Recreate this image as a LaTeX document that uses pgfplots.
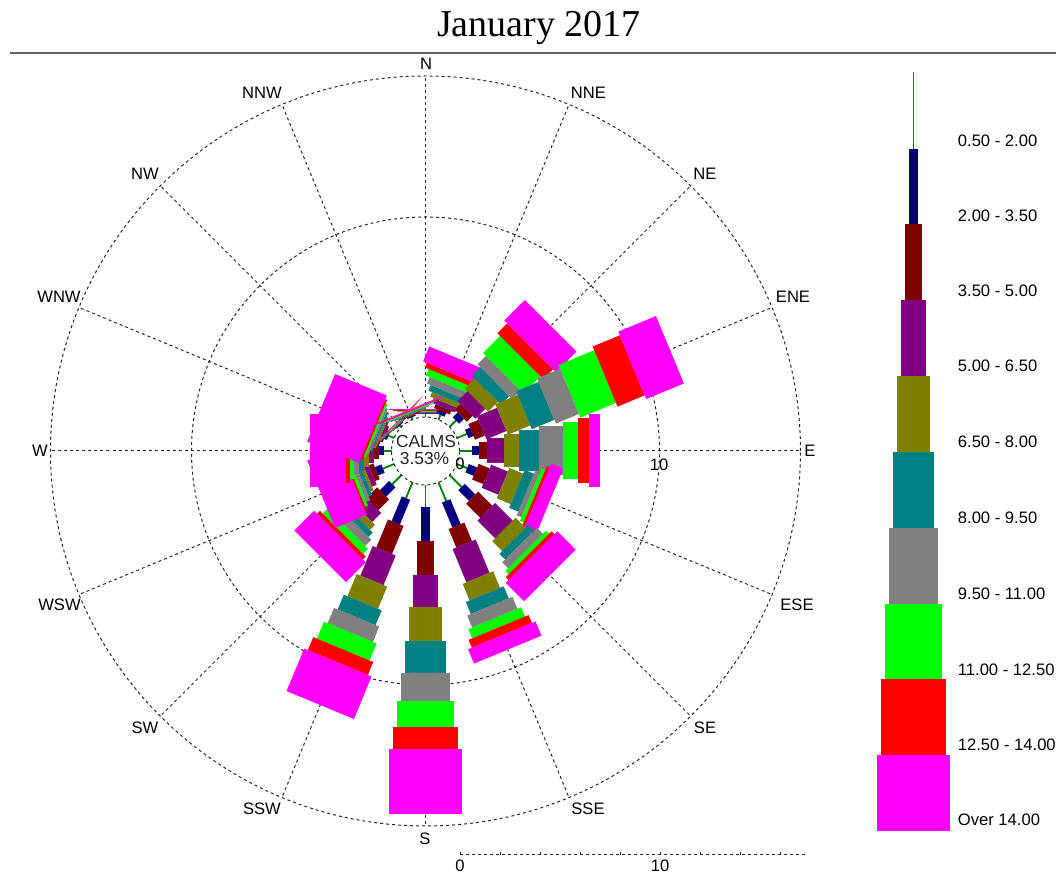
\documentclass[border=0pt]{standalone}
\usepackage{pgfplots}
\pgfplotsset{compat=1.18}
\usepackage{pgfplotstable}
\usepackage{fontspec}
\setmainfont{Liberation Sans}
\newfontfamily\titlefont{Liberation Serif}
\newcommand\lbl{\fontsize{8.3}{10}\selectfont}

\tikzset{gridln/.style={black!85, line width=0.5pt, dash pattern=on 1.5pt off 1.5pt}}

\pgfplotsset{
  windclass/.style={
    colormap={wrmap}{rgb255=(0,128,0) rgb255=(0,0,128) rgb255=(128,0,0) rgb255=(128,0,128)
      rgb255=(128,128,0) rgb255=(0,128,128) rgb255=(128,128,128) rgb255=(0,255,0)
      rgb255=(255,0,0) rgb255=(255,0,255)},
    colormap access=piecewise constant,
    point meta={\thisrow{cls}-0.5},
    point meta min=0, point meta max=10,
  },
}

% direction (deg), speed class, cumulative frequency (%) at start and end of segment
\pgfplotstableread{
dir cls lo hi
0 1 0.00 0.15
0 2 0.15 0.18
0 3 0.18 0.20
0 4 0.20 0.22
0 5 0.22 0.24
0 6 0.24 0.26
0 7 0.26 0.28
0 8 0.28 0.32
0 9 0.32 0.34
0 10 0.34 0.42
22.5 1 0.00 0.25
22.5 2 0.25 0.45
22.5 3 0.45 0.65
22.5 4 0.65 0.90
22.5 5 0.90 1.15
22.5 6 1.15 1.45
22.5 7 1.45 1.80
22.5 8 1.80 2.15
22.5 9 2.15 2.40
22.5 10 2.40 3.20
45 1 0.00 0.45
45 2 0.45 0.80
45 3 0.80 1.20
45 4 1.20 1.90
45 5 1.90 2.60
45 6 2.60 3.20
45 7 3.20 3.80
45 8 3.80 5.00
45 9 5.00 5.70
45 10 5.70 7.15
67.5 1 0.00 0.53
67.5 2 0.53 0.80
67.5 3 0.80 1.34
67.5 4 1.34 2.42
67.5 5 2.42 3.63
67.5 6 3.63 4.85
67.5 7 4.85 6.10
67.5 8 6.10 8.02
67.5 9 8.02 9.49
67.5 10 9.49 11.53
90 1 0.00 0.60
90 2 0.60 0.95
90 3 0.95 1.35
90 4 1.35 2.20
90 5 2.20 2.95
90 6 2.95 3.95
90 7 3.95 5.15
90 8 5.15 5.90
90 9 5.90 6.45
90 10 6.45 7.00
112.5 1 0.00 0.55
112.5 2 0.55 1.00
112.5 3 1.00 1.60
112.5 4 1.60 2.50
112.5 5 2.50 3.25
112.5 6 3.25 3.75
112.5 7 3.75 4.00
112.5 8 4.00 4.20
112.5 9 4.20 4.35
112.5 10 4.35 5.00
135 1 0.00 0.85
135 2 0.85 1.60
135 3 1.60 2.60
135 4 2.60 3.85
135 5 3.85 4.55
135 6 4.55 4.95
135 7 4.95 5.38
135 8 5.38 5.60
135 9 5.60 5.80
135 10 5.80 7.10
157.5 1 0.00 1.00
157.5 2 1.00 2.35
157.5 3 2.35 3.35
157.5 4 3.35 5.15
157.5 5 5.15 6.05
157.5 6 6.05 6.70
157.5 7 6.70 7.35
157.5 8 7.35 7.85
157.5 9 7.85 8.28
157.5 10 8.28 9.05
180 1 0.00 1.12
180 2 1.12 2.79
180 3 2.79 4.50
180 4 4.50 6.09
180 5 6.09 7.79
180 6 7.79 9.40
180 7 9.40 10.79
180 8 10.79 12.12
180 9 12.12 13.22
180 10 13.22 16.45
202.5 1 0.00 0.85
202.5 2 0.85 2.18
202.5 3 2.18 3.70
202.5 4 3.70 5.30
202.5 5 5.30 6.50
202.5 6 6.50 7.30
202.5 7 7.30 8.13
202.5 8 8.13 9.05
202.5 9 9.05 9.75
202.5 10 9.75 12.05
225 1 0.00 0.65
225 2 0.65 1.30
225 3 1.30 2.05
225 4 2.05 2.70
225 5 2.70 3.05
225 6 3.05 3.35
225 7 3.35 3.80
225 8 3.80 4.15
225 9 4.15 4.35
225 10 4.35 5.75
247.5 1 0.00 0.60
247.5 2 0.60 0.95
247.5 3 0.95 1.20
247.5 4 1.20 1.45
247.5 5 1.45 1.60
247.5 6 1.60 1.80
247.5 7 1.80 2.00
247.5 8 2.00 2.15
247.5 9 2.15 2.25
247.5 10 2.25 3.95
270 1 0.00 0.40
270 2 0.40 0.65
270 3 0.65 0.90
270 4 0.90 1.15
270 5 1.15 1.40
270 6 1.40 1.65
270 7 1.65 1.90
270 8 1.90 2.10
270 9 2.10 2.30
270 10 2.30 4.08
292.5 1 0.00 0.30
292.5 2 0.30 0.45
292.5 3 0.45 0.55
292.5 4 0.55 0.65
292.5 5 0.65 0.75
292.5 6 0.75 0.85
292.5 7 0.85 0.95
292.5 8 0.95 1.05
292.5 9 1.05 1.15
292.5 10 1.15 3.95
315 1 0.00 0.10
315 2 0.10 0.15
315 3 0.15 0.175
315 4 0.175 0.20
315 5 0.20 0.225
315 6 0.225 0.25
315 7 0.25 0.275
315 8 0.275 0.30
315 9 0.30 0.325
315 10 0.325 0.35
337.5 1 0.00 0.12
337.5 2 0.12 0.18
337.5 3 0.18 0.22
337.5 4 0.22 0.26
337.5 5 0.26 0.30
337.5 6 0.30 0.34
337.5 7 0.34 0.38
337.5 8 0.38 0.42
337.5 9 0.42 0.46
337.5 10 0.46 0.52
}\rosedata

% legend key: class, top and bottom of its block (axis units)
\pgfplotstableread{
cls ytop ybot
1 18.925 15.10
2 15.10 11.35
3 11.35 7.55
4 7.55 3.75
5 3.75 -0.05
6 -0.05 -3.85
7 -3.85 -7.65
8 -7.65 -11.40
9 -11.40 -15.20
10 -15.20 -19.00
}\legenddata

\begin{document}
\begin{tikzpicture}
\begin{axis}[
  at={(0pt,0pt)}, anchor=south west,
  x=10pt, y=10pt,
  xmin=-21.275, xmax=31.525, ymin=-21.1, ymax=22.55,
  enlargelimits=false, hide axis, clip=false,
]
% grid
\draw[gridln] (axis cs:0,0) circle[radius=187.5pt];
\draw[gridln] (axis cs:0,0) circle[radius=117pt];
\pgfplotsinvokeforeach{0,22.5,45,67.5,90,112.5,135,157.5,180,202.5,225,247.5,270,292.5,315,337.5}{
  \draw[gridln] (axis cs:{1.7*sin(#1)},{1.7*cos(#1)}) -- (axis cs:{18.75*sin(#1)},{18.75*cos(#1)});
}
% rose bars
\addplot[
  windclass,
  quiver={
    u={(\thisrow{hi}-\thisrow{lo})*sin(\thisrow{dir})},
    v={(\thisrow{hi}-\thisrow{lo})*cos(\thisrow{dir})},
    colored,
    every arrow/.append style={line width={max(0.9,0.04*\pgfplotspointmetatransformed-1.5)*1pt}},
  },
] table[
  x expr={(1.7+\thisrow{lo})*sin(\thisrow{dir})},
  y expr={(1.7+\thisrow{lo})*cos(\thisrow{dir})},
] {\rosedata};
% legend key
\addplot[
  windclass,
  quiver={
    u=0,
    v={\thisrow{ybot}-\thisrow{ytop}},
    colored,
    every arrow/.append style={line width={max(0.9,0.04*\pgfplotspointmetatransformed-1.5)*1pt}},
  },
] table[x expr=24.4, y=ytop] {\legenddata};

% calm circle
\draw[gridln] (axis cs:0,0) circle[radius=17pt];
\node[font=\fontsize{8.7}{10}\selectfont, text=black!85] at (axis cs:0.025,0.48) {CALMS};
\node[font=\fontsize{8.7}{10}\selectfont, text=black!85] at (axis cs:-0.05,-0.38) {3.53\%};
\node[font=\lbl] at (axis cs:1.725,-0.65) {0};
\node[font=\lbl] at (axis cs:11.675,-0.7) {10};

% compass labels
\node[font=\lbl] at (axis cs:0.025,19.35) {N};
\node[font=\lbl] at (axis cs:8.15,17.9) {NNE};
\node[font=\lbl] at (axis cs:13.975,13.85) {NE};
\node[font=\lbl] at (axis cs:18.375,7.7) {ENE};
\node[font=\lbl] at (axis cs:19.225,0) {E};
\node[font=\lbl] at (axis cs:18.575,-7.7) {ESE};
\node[font=\lbl] at (axis cs:13.975,-13.85) {SE};
\node[font=\lbl] at (axis cs:8.125,-17.9) {SSE};
\node[font=\lbl] at (axis cs:-0.025,-19.4) {S};
\node[font=\lbl] at (axis cs:-8.175,-17.9) {SSW};
\node[font=\lbl] at (axis cs:-14.025,-13.85) {SW};
\node[font=\lbl] at (axis cs:-18.3,-7.7) {WSW};
\node[font=\lbl] at (axis cs:-19.275,0) {W};
\node[font=\lbl] at (axis cs:-18.325,7.7) {WNW};
\node[font=\lbl] at (axis cs:-14.025,13.85) {NW};
\node[font=\lbl] at (axis cs:-8.175,17.9) {NNW};

% bottom scale
\draw[gridln] (axis cs:1.725,-20.2) -- (axis cs:18.975,-20.2);
\pgfplotsinvokeforeach{0,1,2,3,4,5,6,7,8}{
  \draw[black!85, line width=0.5pt] (axis cs:{1.725+2*#1},-20.2) -- (axis cs:{1.725+2*#1},-20.05);
}
\node[font=\lbl, inner sep=0pt] at (axis cs:1.725,-20.72) {0};
\node[font=\lbl, inner sep=0pt] at (axis cs:11.725,-20.72) {10};

% legend labels
\node[font=\lbl, anchor=west, inner sep=0pt] at (axis cs:26.6,15.5) {0.50 - 2.00};
\node[font=\lbl, anchor=west, inner sep=0pt] at (axis cs:26.6,11.75) {2.00 - 3.50};
\node[font=\lbl, anchor=west, inner sep=0pt] at (axis cs:26.6,8.0) {3.50 - 5.00};
\node[font=\lbl, anchor=west, inner sep=0pt] at (axis cs:26.6,4.25) {5.00 - 6.50};
\node[font=\lbl, anchor=west, inner sep=0pt] at (axis cs:26.6,0.45) {6.50 - 8.00};
\node[font=\lbl, anchor=west, inner sep=0pt] at (axis cs:26.6,-3.35) {8.00 - 9.50};
\node[font=\lbl, anchor=west, inner sep=0pt] at (axis cs:26.6,-7.15) {9.50 - 11.00};
\node[font=\lbl, anchor=west, inner sep=0pt] at (axis cs:26.6,-10.95) {11.00 - 12.50};
\node[font=\lbl, anchor=west, inner sep=0pt] at (axis cs:26.6,-14.7) {12.50 - 14.00};
\node[font=\lbl, anchor=west, inner sep=0pt] at (axis cs:26.6,-18.45) {Over 14.00};

% title and rule
\node[font=\titlefont\fontsize{19}{22}\selectfont, anchor=base] at (axis cs:5.675,20.7) {January 2017};
\draw[black!60, line width=1pt] (axis cs:-20.775,19.9) -- (axis cs:31.525,19.9);
\end{axis}
\pgfresetboundingbox
\path[use as bounding box] (0,0) rectangle (528pt,436.5pt);
\end{tikzpicture}
\end{document}
